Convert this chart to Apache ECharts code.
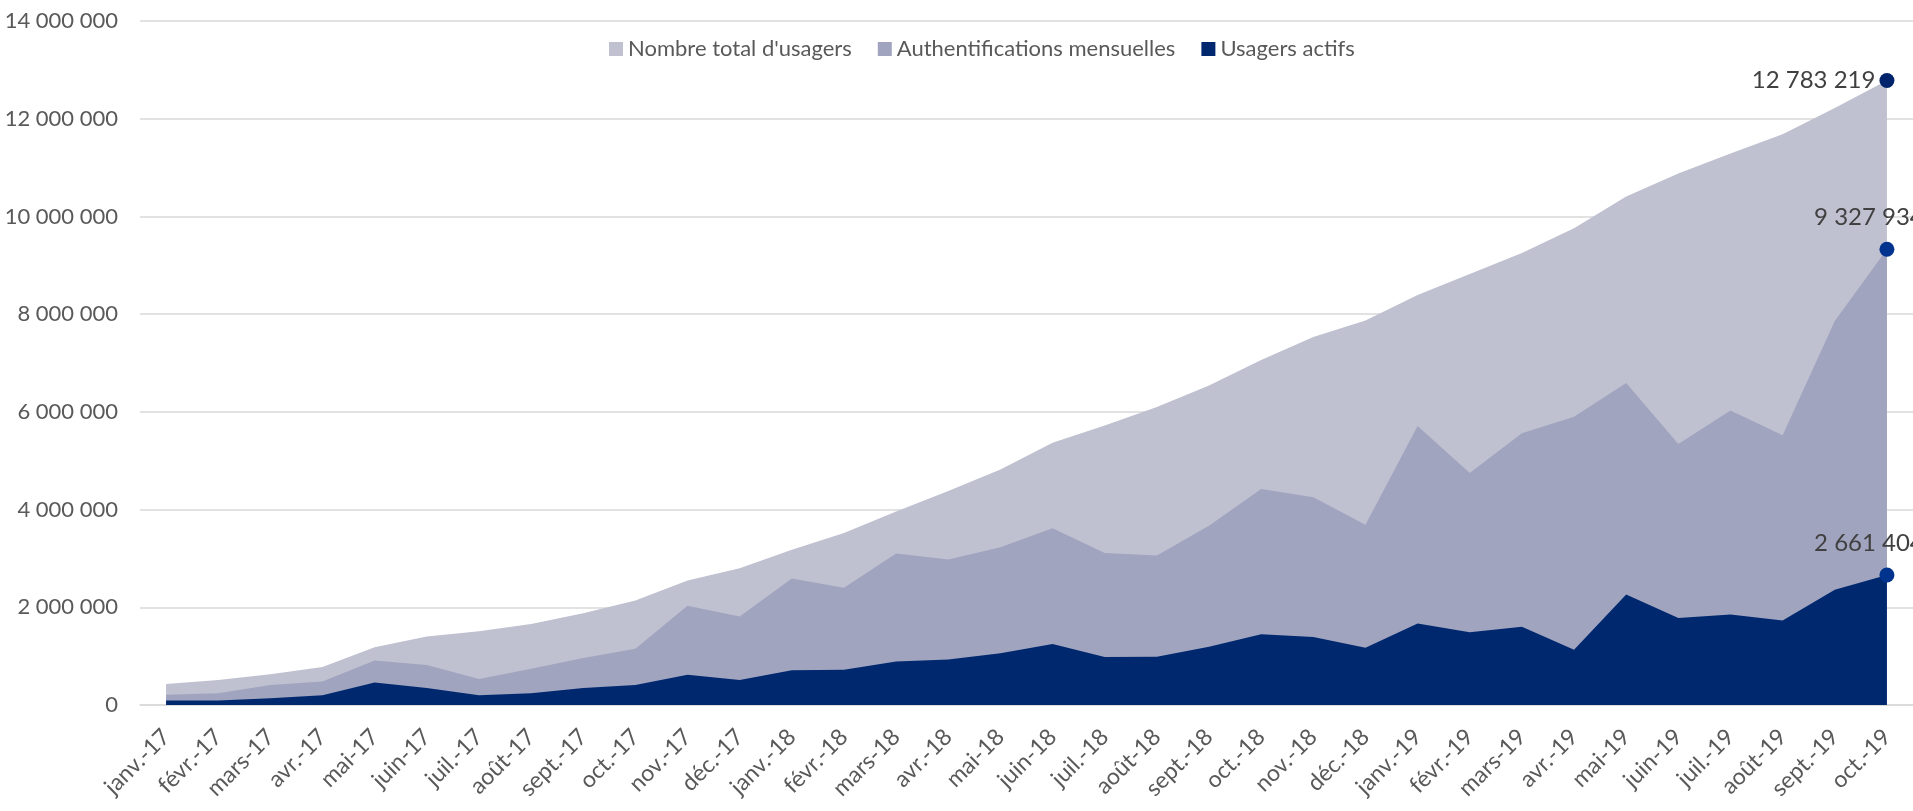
<!DOCTYPE html>
<html>
<head>
<meta charset="utf-8">
<script src="https://cdn.jsdelivr.net/npm/echarts@6/dist/echarts.min.js"></script>
<style>
  html, body { margin: 0; padding: 0; background: #fff; }
  #chart { width: 1913px; height: 811px; }
</style>
</head>
<body>
<div id="chart"></div>
<script>
const months = [
  'janv.-17', 'févr.-17', 'mars-17', 'avr.-17', 'mai-17', 'juin-17', 'juil.-17', 'août-17',
  'sept.-17', 'oct.-17', 'nov.-17', 'déc.-17', 'janv.-18', 'févr.-18', 'mars-18', 'avr.-18',
  'mai-18', 'juin-18', 'juil.-18', 'août-18', 'sept.-18', 'oct.-18', 'nov.-18', 'déc.-18',
  'janv.-19', 'févr.-19', 'mars-19', 'avr.-19', 'mai-19', 'juin-19', 'juil.-19', 'août-19',
  'sept.-19', 'oct.-19'
];

const totalUsers = [
  430000, 510000, 630000, 780000, 1180000, 1400000, 1510000, 1660000,
  1880000, 2140000, 2550000, 2800000, 3180000, 3520000, 3960000, 4380000,
  4820000, 5370000, 5720000, 6100000, 6540000, 7060000, 7530000, 7870000,
  8390000, 8820000, 9250000, 9760000, 10410000, 10880000, 11290000, 11680000,
  12220000, 12783219
];

const monthlyAuth = [
  210000, 240000, 410000, 480000, 910000, 820000, 530000, 740000,
  960000, 1150000, 2030000, 1810000, 2590000, 2400000, 3100000, 2980000,
  3230000, 3620000, 3110000, 3060000, 3670000, 4420000, 4250000, 3690000,
  5710000, 4750000, 5560000, 5900000, 6590000, 5340000, 6030000, 5520000,
  7860000, 9327934
];

const activeUsers = [
  90000, 90000, 140000, 200000, 460000, 350000, 200000, 240000,
  350000, 410000, 620000, 510000, 710000, 720000, 890000, 930000,
  1060000, 1250000, 980000, 990000, 1190000, 1450000, 1390000, 1170000,
  1670000, 1490000, 1600000, 1130000, 2260000, 1780000, 1850000, 1730000,
  2360000, 2661404
];

const seriesNames = ["Nombre total d'usagers", 'Authentifications mensuelles', 'Usagers actifs'];
const yTicks = [0, 2000000, 4000000, 6000000, 8000000, 10000000, 12000000, 14000000];

const FONT = 'Lato';

function spaced(v) {
  return String(Math.round(v)).replace(/\B(?=(\d{3})+(?!\d))/g, ' ');
}

// only the last point gets a marker and a value label
function withEndLabel(values, markerColor, label) {
  return values.map((v, i) => {
    if (i < values.length - 1) return v;
    return {
      value: v,
      symbolSize: 15,
      itemStyle: { color: markerColor, opacity: 1 },
      label: Object.assign({
        show: true,
        color: '#404040',
        fontFamily: FONT,
        fontSize: 24,
        formatter: (p) => spaced(p.value)
      }, label)
    };
  });
}

function areaSeries(name, values, fill, markerColor, label, z) {
  return {
    name: name,
    type: 'line',
    z: z,
    data: withEndLabel(values, markerColor, label),
    symbol: 'circle',
    symbolSize: 0,
    showSymbol: true,
    showAllSymbol: true,
    lineStyle: { width: 0 },
    itemStyle: { color: fill },
    areaStyle: { color: fill, opacity: 1 },
    emphasis: { disabled: true }
  };
}

const chart = echarts.init(document.getElementById('chart'), null, { renderer: 'canvas' });

chart.setOption({
  animation: false,
  backgroundColor: '#ffffff',
  color: ['#BFC0D0', '#A1A4BF', '#00286E'],
  legend: {
    top: 33,
    left: 604,
    itemWidth: 14,
    itemHeight: 14,
    itemGap: 26,
    icon: 'rect',
    data: seriesNames,
    textStyle: { color: '#595959', fontFamily: FONT, fontSize: 22 }
  },
  grid: { left: 140, right: -12, top: 21, bottom: 106 },
  xAxis: {
    type: 'category',
    data: months,
    boundaryGap: true,
    axisLine: { lineStyle: { color: '#D9D9D9', width: 1.5 } },
    axisTick: { show: false },
    axisLabel: {
      interval: 0,
      rotate: 45,
      margin: 28,
      color: '#595959',
      fontFamily: FONT,
      fontSize: 23
    }
  },
  yAxis: {
    type: 'value',
    min: yTicks[0],
    max: yTicks[yTicks.length - 1],
    interval: yTicks[1] - yTicks[0],
    axisLine: { show: false },
    axisTick: { show: false },
    splitLine: { lineStyle: { color: '#D9D9D9', width: 1.5 } },
    axisLabel: {
      margin: 22,
      color: '#595959',
      fontFamily: FONT,
      fontSize: 22,
      formatter: spaced
    }
  },
  series: [
    areaSeries(seriesNames[0], totalUsers, '#BFC0D0', '#00246B',
      { position: 'left', distance: 4 }, 1),
    areaSeries(seriesNames[1], monthlyAuth, '#A1A4BF', '#00338D',
      { position: 'top', distance: 12, offset: [-18, 0] }, 2),
    areaSeries(seriesNames[2], activeUsers, '#00286E', '#00338D',
      { position: 'top', distance: 12, offset: [-18, 0] }, 3)
  ]
});
</script>
</body>
</html>
